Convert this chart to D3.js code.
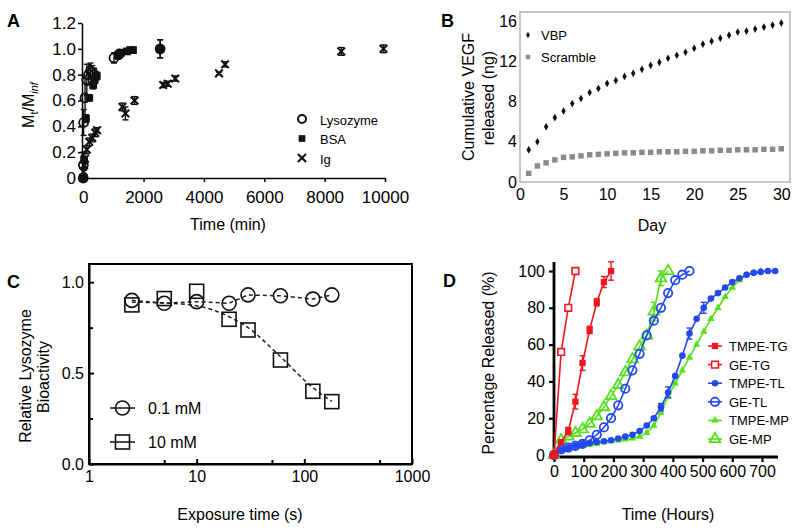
<!DOCTYPE html>
<html><head><meta charset="utf-8">
<script src="https://cdn.jsdelivr.net/npm/d3@7"></script>
<style>body{margin:0;background:#fff} svg{display:block}</style>
</head><body>
<svg id="chart" width="800" height="531"></svg>
<script>
// ---------- Panel A data ----------
const aXTicks = [0, 2000, 4000, 6000, 8000, 10000];
const aYTicks = [0, 0.2, 0.4, 0.6, 0.8, 1.0, 1.2];
const aLysT = [0, 5, 15, 60, 120, 180, 240, 300, 360, 1020, 1200, 2550];
const aLysV = [0, 0.1, 0.43, 0.62, 0.76, 0.8, 0.83, 0.82, 0.8, 0.93, 0.96, 1.0];
const aLysE = [0.02, 0.1, 0.1, 0.15, 0.12, 0.08, 0.06, 0.05, 0.05, 0.04, 0.03, 0.07];
const aBsaT = [0, 30, 90, 200, 330, 380, 450, 1150, 1250, 1450, 1550, 1650, 2550];
const aBsaV = [0, 0.14, 0.46, 0.62, 0.72, 0.76, 0.79, 0.95, 0.97, 0.98, 0.99, 0.99, 1.0];
const aBsaE = [0.01, 0.02, 0.03, 0.02, 0.03, 0.03, 0.03, 0.03, 0.02, 0.02, 0.02, 0.02, 0.07];
const aIgT = [0, 10, 30, 60, 120, 200, 300, 400, 460, 1300, 1400, 1700, 2650, 2800, 3050, 4500, 4700, 8550, 9950];
const aIgV = [0, 0.05, 0.1, 0.15, 0.22, 0.28, 0.31, 0.35, 0.37, 0.55, 0.5, 0.6, 0.72, 0.73, 0.77, 0.81, 0.88, 0.98, 1.0];
const aIgE = [0.01, 0.03, 0.04, 0.04, 0.03, 0.03, 0.03, 0.03, 0.02, 0.03, 0.05, 0.03, 0.02, 0.02, 0.02, 0.01, 0.02, 0.03, 0.03];
const aLegend = ["Lysozyme", "BSA", "Ig"];

// ---------- Panel B data ----------
const bDays = d3.range(1, 31);
const bXTicks = [0, 5, 10, 15, 20, 25, 30];
const bYTicks = [0, 4, 8, 12, 16];
const bVBP = [3.2, 4.0, 5.5, 6.4, 7.06, 7.8, 8.3, 8.9, 9.3, 9.8, 10.1, 10.5, 10.8, 11.2, 11.6, 11.9, 12.3, 12.6, 12.9, 13.3, 13.7, 14.0, 14.3, 14.6, 14.9, 15.0, 15.2, 15.4, 15.6, 15.8];
const bScramble = [0.86, 1.6, 1.9, 2.2, 2.45, 2.5, 2.6, 2.7, 2.75, 2.8, 2.85, 2.9, 2.9, 2.95, 2.95, 3.0, 3.0, 3.0, 3.05, 3.05, 3.1, 3.1, 3.15, 3.15, 3.2, 3.2, 3.2, 3.25, 3.25, 3.3];
const bLegend = ["VBP", "Scramble"];

// ---------- Panel C data ----------
const cXTicks = [1, 10, 100, 1000];
const cXMinor = [5, 50, 500];
const cYTicks = [0, 0.5, 1.0];
const cYMinor = [0.25, 0.75];
const cTime = [2.5, 5, 10, 20, 30, 60, 120, 180];
const c01 = [0.9, 0.884, 0.893, 0.884, 0.93, 0.925, 0.907, 0.93];
const c10 = [0.875, 0.91, 0.95, 0.796, 0.737, 0.572, 0.40, 0.343];
const c10Fit = [0.89, 0.885, 0.87, 0.81, 0.75, 0.59, 0.42, 0.345];
const cLegend = ["0.1 mM", "10 mM"];

// ---------- Panel D data ----------
const dXTicks = [0, 100, 200, 300, 400, 500, 600, 700];
const dYTicks = [0, 20, 40, 60, 80, 100];
const dTmpeTgT = [0, 24, 48, 72, 96, 120, 144, 168, 192];
const dTmpeTgV = [0, 7, 13, 29, 50, 68, 83, 94, 100];
const dTmpeTgE = [0, 1, 2, 4, 4, 2, 2, 3, 5];
const dGeTgT = [0, 24, 48, 72];
const dGeTgV = [0, 56, 80, 100];
const dTmpeTlT = d3.range(0, 745, 24);
const dTmpeTlV = [0, 3, 4, 5, 6, 6.5, 7, 7.5, 8, 9, 10, 11, 13, 16, 20, 26, 34, 43, 54, 66, 74, 80, 85, 88, 91, 94, 96, 98, 99, 99.5, 100, 100];
const dTmpeTlE = [0, 0, 0, 0, 0, 0, 0, 0, 0, 0, 0, 0, 0, 0, 0, 2, 3, 0, 0, 3, 0, 3, 0, 0, 0, 0, 0, 0, 0, 0, 0, 0];
const dGeTlT = d3.range(0, 457, 24);
const dGeTlV = [0, 3, 4, 5, 6, 8, 11, 15, 20, 27, 36, 46, 55, 65, 73, 80, 88, 95, 98, 100];
const dTmpeMpT = d3.range(0, 697, 24);
const dTmpeMpV = [0, 2, 3, 4, 5, 5.5, 6, 7, 7.5, 8, 8.5, 9, 10, 12, 16, 23, 32, 39, 46, 53, 60, 67, 74, 80, 86, 91, 95, 98, 99, 100];
const dGeMpT = d3.range(0, 385, 24);
const dGeMpV = [0, 8, 10, 12, 14, 17, 21, 26, 32, 38, 45, 52, 59, 65, 78, 96, 100];
const dGeMpE = [0, 0, 0, 0, 0, 0, 0, 0, 0, 0, 0, 0, 0, 0, 5, 4, 0];
const dLegend = ["TMPE-TG", "GE-TG", "TMPE-TL", "GE-TL", "TMPE-MP", "GE-MP"];

const FONT = '"Liberation Sans", Arial, Helvetica, sans-serif';
const RED = "#f01820", BLUE = "#2448f0", GREEN = "#55e01e";
const svg = d3.select("#chart");

function styleAxis(g, size, width, color) {
  g.selectAll("text").attr("font-size", size).attr("font-family", FONT).attr("fill", "#000");
  g.selectAll("line").attr("stroke", color).attr("stroke-width", width);
  g.select(".domain").attr("stroke", color).attr("stroke-width", width);
}
function label(x, y, t, size, opts = {}) {
  return svg.append("text").attr("x", x).attr("y", y).attr("font-family", FONT)
    .attr("font-size", size).attr("font-weight", opts.bold ? "bold" : null)
    .attr("text-anchor", opts.anchor || "start").text(t);
}
function vlabel(cx, cy, t, size) {
  return svg.append("text").attr("transform", `translate(${cx},${cy}) rotate(-90)`)
    .attr("dy", "0.35em").attr("text-anchor", "middle").attr("font-family", FONT)
    .attr("font-size", size).text(t);
}
const sym = (type, size) => d3.symbol().type(type).size(size)();

// ================= Panel A =================
const xA = d3.scaleLinear().domain([-40, 10000]).range([82, 385]);
const yA = d3.scaleLinear().domain([0, 1.2]).range([178, 23]);
const gA = svg.append("g");
gA.append("g").attr("transform", "translate(0,178)")
  .call(d3.axisBottom(xA).tickValues(aXTicks).tickSize(4).tickSizeOuter(0).tickPadding(9).tickFormat(d3.format("d")))
  .call(g => styleAxis(g, 17, 1.5, "#000"));
gA.append("g").attr("transform", "translate(82,0)")
  .call(d3.axisLeft(yA).tickValues(aYTicks).tickSize(4).tickSizeOuter(0).tickPadding(2)
    .tickFormat(d => d === 0 ? "0" : d3.format(".1f")(d)))
  .call(g => styleAxis(g, 17, 1.5, "#000"));

function errBars(g, xs, ys, es, xS, yS, color, cap) {
  xs.forEach((t, i) => {
    if (!es[i]) return;
    const x = xS(t), y1 = yS(ys[i] - es[i]), y2 = yS(ys[i] + es[i]);
    g.append("line").attr("x1", x).attr("x2", x).attr("y1", y1).attr("y2", y2).attr("stroke", color).attr("stroke-width", 1.4);
    [y1, y2].forEach(y => g.append("line").attr("x1", x - cap).attr("x2", x + cap).attr("y1", y).attr("y2", y).attr("stroke", color).attr("stroke-width", 1.4));
  });
}
const gAd = gA.append("g");
errBars(gAd, aIgT, aIgV, aIgE, xA, yA, "#111", 3);
errBars(gAd, aBsaT, aBsaV, aBsaE, xA, yA, "#111", 3);
errBars(gAd, aLysT, aLysV, aLysE, xA, yA, "#111", 3);
aIgT.forEach((t, i) => gAd.append("path").attr("d", sym(d3.symbolX, 40))
  .attr("transform", `translate(${xA(t)},${yA(aIgV[i])})`).attr("fill", "none").attr("stroke", "#111").attr("stroke-width", 2));
aBsaT.forEach((t, i) => gAd.append("path").attr("d", sym(d3.symbolSquare, 60))
  .attr("transform", `translate(${xA(t)},${yA(aBsaV[i])})`).attr("fill", "#111"));
aLysT.forEach((t, i) => gAd.append("circle").attr("cx", xA(t)).attr("cy", yA(aLysV[i])).attr("r", 4.5)
  .attr("fill", t === 2550 ? "#111" : "none").attr("stroke", "#111").attr("stroke-width", 1.8));

// legend A
const aLegY = [119, 138.5, 158];
gA.append("circle").attr("cx", 302).attr("cy", aLegY[0]).attr("r", 4).attr("fill", "none").attr("stroke", "#111").attr("stroke-width", 2);
gA.append("path").attr("d", sym(d3.symbolSquare, 45)).attr("transform", `translate(302,${aLegY[1]})`).attr("fill", "#111");
gA.append("path").attr("d", sym(d3.symbolX, 45)).attr("transform", `translate(302,${aLegY[2]})`).attr("fill", "none").attr("stroke", "#111").attr("stroke-width", 2.2);
aLegend.forEach((t, i) => label(320, aLegY[i] + 5.5, t, 13));

label(7, 27, "A", 18, { bold: true });
label(228, 230, "Time (min)", 16, { anchor: "middle" });
const aTitle = svg.append("text").attr("transform", "translate(28,105) rotate(-90)").attr("dy", "0.35em")
  .attr("text-anchor", "middle").attr("font-family", FONT).attr("font-size", 16);
aTitle.append("tspan").text("M");
aTitle.append("tspan").attr("font-size", 11).attr("dy", 4).text("t");
aTitle.append("tspan").attr("dy", -4).text("/M");
aTitle.append("tspan").attr("font-size", 11).attr("dy", 4).attr("font-style", "italic").text("inf");

// ================= Panel B =================
const xB = d3.scaleLinear().domain([0, 31]).range([520, 790]);
const yB = d3.scaleLinear().domain([0, 16.9]).range([182, 12]);
const gB = svg.append("g");
gB.append("rect").attr("x", 520).attr("y", 12).attr("width", 270).attr("height", 170)
  .attr("fill", "none").attr("stroke", "#b4b4b4").attr("stroke-width", 1.5);
gB.append("g").attr("transform", "translate(0,182)")
  .call(d3.axisBottom(xB).tickValues(bXTicks).tickSize(0).tickPadding(7))
  .call(g => { styleAxis(g, 16, 1, "#b4b4b4"); g.select(".domain").remove(); });
gB.append("g").attr("transform", "translate(520,0)")
  .call(d3.axisLeft(yB).tickValues(bYTicks).tickSize(0).tickPadding(3))
  .call(g => { styleAxis(g, 16, 1, "#b4b4b4"); g.select(".domain").remove(); });
bDays.forEach((d, i) => {
  gB.append("path").attr("d", sym(d3.symbolSquare, 30)).attr("transform", `translate(${xB(d)},${yB(bScramble[i])})`).attr("fill", "#8a8a8a");
  gB.append("path").attr("d", sym(d3.symbolDiamond, 17)).attr("transform", `translate(${xB(d)},${yB(bVBP[i])})`).attr("fill", "#111");
});
gB.append("path").attr("d", sym(d3.symbolDiamond, 12)).attr("transform", "translate(528,35)").attr("fill", "#111");
gB.append("path").attr("d", sym(d3.symbolSquare, 20)).attr("transform", "translate(528,57)").attr("fill", "#8a8a8a");
label(541, 40, bLegend[0], 13);
label(541, 62, bLegend[1], 13);
label(441, 27, "B", 18, { bold: true });
label(652, 231, "Day", 16, { anchor: "middle" });
vlabel(468, 97, "Cumulative VEGF", 16);
vlabel(488, 98, "released (ng)", 16);

// ================= Panel C =================
const xC = d3.scaleLog().domain([1, 1000]).range([89, 412]);
const yC = d3.scaleLinear().domain([0, 1.1]).range([464, 264]);
const gC = svg.append("g");
gC.append("g").attr("transform", "translate(0,464)")
  .call(d3.axisBottom(xC).tickValues(cXTicks).tickSize(-5).tickSizeOuter(0).tickPadding(7).tickFormat(d3.format("d")))
  .call(g => styleAxis(g, 16, 2, "#000"));
gC.append("g").attr("transform", "translate(0,464)")
  .call(d3.axisBottom(xC).tickValues(cXMinor).tickSize(-4).tickSizeOuter(0).tickFormat(""))
  .call(g => { styleAxis(g, 16, 2, "#000"); g.select(".domain").remove(); });
gC.append("g").attr("transform", "translate(89,0)")
  .call(d3.axisLeft(yC).tickValues(cYTicks).tickSize(-5).tickSizeOuter(0).tickPadding(5).tickFormat(d3.format(".1f")))
  .call(g => styleAxis(g, 16, 2, "#000"));
gC.append("g").attr("transform", "translate(89,0)")
  .call(d3.axisLeft(yC).tickValues(cYMinor).tickSize(-4).tickSizeOuter(0).tickFormat(""))
  .call(g => { styleAxis(g, 16, 2, "#000"); g.select(".domain").remove(); });
gC.append("rect").attr("x", 89).attr("y", 264).attr("width", 323).attr("height", 200)
  .attr("fill", "none").attr("stroke", "#000").attr("stroke-width", 2);
const lineC = d3.line().x(d => xC(d[0])).y(d => yC(d[1]));
gC.append("path").attr("d", lineC(cTime.map((t, i) => [t, c01[i]])))
  .attr("fill", "none").attr("stroke", "#222").attr("stroke-width", 1.5).attr("stroke-dasharray", "4,3");
gC.append("path").attr("d", lineC.curve(d3.curveMonotoneX)(cTime.map((t, i) => [t, c10Fit[i]])))
  .attr("fill", "none").attr("stroke", "#222").attr("stroke-width", 1.5).attr("stroke-dasharray", "4,3");
cTime.forEach((t, i) => {
  gC.append("circle").attr("cx", xC(t)).attr("cy", yC(c01[i])).attr("r", 7)
    .attr("fill", "none").attr("stroke", "#111").attr("stroke-width", 1.6);
  gC.append("rect").attr("x", xC(t) - 7).attr("y", yC(c10[i]) - 7).attr("width", 14).attr("height", 14)
    .attr("fill", "none").attr("stroke", "#111").attr("stroke-width", 1.6);
});
// legend C
gC.append("line").attr("x1", 110).attr("x2", 135).attr("y1", 408).attr("y2", 408).attr("stroke", "#111").attr("stroke-width", 1.5);
gC.append("circle").attr("cx", 122.5).attr("cy", 408).attr("r", 7).attr("fill", "none").attr("stroke", "#111").attr("stroke-width", 1.6);
gC.append("line").attr("x1", 110).attr("x2", 135).attr("y1", 442).attr("y2", 442).attr("stroke", "#111").attr("stroke-width", 1.5);
gC.append("rect").attr("x", 115.5).attr("y", 435).attr("width", 14).attr("height", 14).attr("fill", "none").attr("stroke", "#111").attr("stroke-width", 1.6);
label(148, 414, cLegend[0], 16);
label(148, 448, cLegend[1], 16);
label(7, 288, "C", 18, { bold: true });
label(240, 520, "Exposure time (s)", 16, { anchor: "middle" });
vlabel(25, 376, "Relative Lysozyme", 16);
vlabel(43, 377, "Bioactivity", 16);

// ================= Panel D =================
const xD = d3.scaleLinear().domain([0, 700]).range([554, 762]);
const yD = d3.scaleLinear().domain([0, 100]).range([455, 271]);
const gD = svg.append("g");
gD.append("g").attr("transform", "translate(0,457)")
  .call(d3.axisBottom(xD).tickValues(dXTicks).tickSize(5).tickSizeOuter(0).tickPadding(4))
  .call(g => { styleAxis(g, 16, 2.2, "#000"); g.select(".domain").remove(); });
gD.append("g").attr("transform", "translate(554,0)")
  .call(d3.axisLeft(yD).tickValues(dYTicks).tickSize(5).tickSizeOuter(0).tickPadding(4))
  .call(g => { styleAxis(g, 16, 2.2, "#000"); g.select(".domain").remove(); });
gD.append("line").attr("x1", 554).attr("x2", 554).attr("y1", 262).attr("y2", 458).attr("stroke", "#000").attr("stroke-width", 2.8);
gD.append("line").attr("x1", 553).attr("x2", 778).attr("y1", 457).attr("y2", 457).attr("stroke", "#000").attr("stroke-width", 2.8);

const lineD = d3.line().x(d => xD(d[0])).y(d => yD(d[1]));
const seriesD = [
  { t: dGeMpT, v: dGeMpV, e: dGeMpE, c: GREEN, m: "triOpen" },
  { t: dTmpeMpT, v: dTmpeMpV, e: null, c: GREEN, m: "tri" },
  { t: dGeTlT, v: dGeTlV, e: null, c: BLUE, m: "circOpen" },
  { t: dTmpeTlT, v: dTmpeTlV, e: dTmpeTlE, c: BLUE, m: "circ" },
  { t: dGeTgT, v: dGeTgV, e: null, c: RED, m: "sqOpen" },
  { t: dTmpeTgT, v: dTmpeTgV, e: dTmpeTgE, c: RED, m: "sq" }
];
function drawMarker(g, m, x, y, c) {
  if (m === "sq") g.append("path").attr("d", sym(d3.symbolSquare, 40)).attr("transform", `translate(${x},${y})`).attr("fill", c);
  if (m === "sqOpen") g.append("path").attr("d", sym(d3.symbolSquare, 45)).attr("transform", `translate(${x},${y})`).attr("fill", "#fff").attr("stroke", c).attr("stroke-width", 1.6);
  if (m === "circ") g.append("circle").attr("cx", x).attr("cy", y).attr("r", 3.3).attr("fill", c);
  if (m === "circOpen") g.append("circle").attr("cx", x).attr("cy", y).attr("r", 4.2).attr("fill", "none").attr("stroke", c).attr("stroke-width", 1.8);
  if (m === "tri") g.append("path").attr("d", sym(d3.symbolTriangle, 24)).attr("transform", `translate(${x},${y})`).attr("fill", c);
  if (m === "triOpen") g.append("path").attr("d", sym(d3.symbolTriangle, 50)).attr("transform", `translate(${x},${y})`).attr("fill", "none").attr("stroke", c).attr("stroke-width", 1.8);
}
seriesD.forEach(s => {
  gD.append("path").attr("d", lineD(s.t.map((t, i) => [t, s.v[i]]))).attr("fill", "none").attr("stroke", s.c).attr("stroke-width", 1.6);
  if (s.e) errBars(gD, s.t, s.v, s.e, xD, yD, s.c, 3);
  s.t.forEach((t, i) => drawMarker(gD, s.m, xD(t), yD(s.v[i]), s.c));
});
// legend D
const dLegMarkers = [["sq", RED], ["sqOpen", RED], ["circ", BLUE], ["circOpen", BLUE], ["tri", GREEN], ["triOpen", GREEN]];
dLegend.forEach((t, i) => {
  const y = 346 + i * 18.6;
  gD.append("line").attr("x1", 708).attr("x2", 722).attr("y1", y).attr("y2", y).attr("stroke", dLegMarkers[i][1]).attr("stroke-width", 1.6);
  drawMarker(gD, dLegMarkers[i][0], 715, y, dLegMarkers[i][1]);
  label(729, y + 5, t, 13);
});
label(443, 287, "D", 18, { bold: true });
label(668, 520, "Time (Hours)", 16, { anchor: "middle" });
vlabel(488, 363, "Percentage Released (%)", 16);
</script>
</body></html>
